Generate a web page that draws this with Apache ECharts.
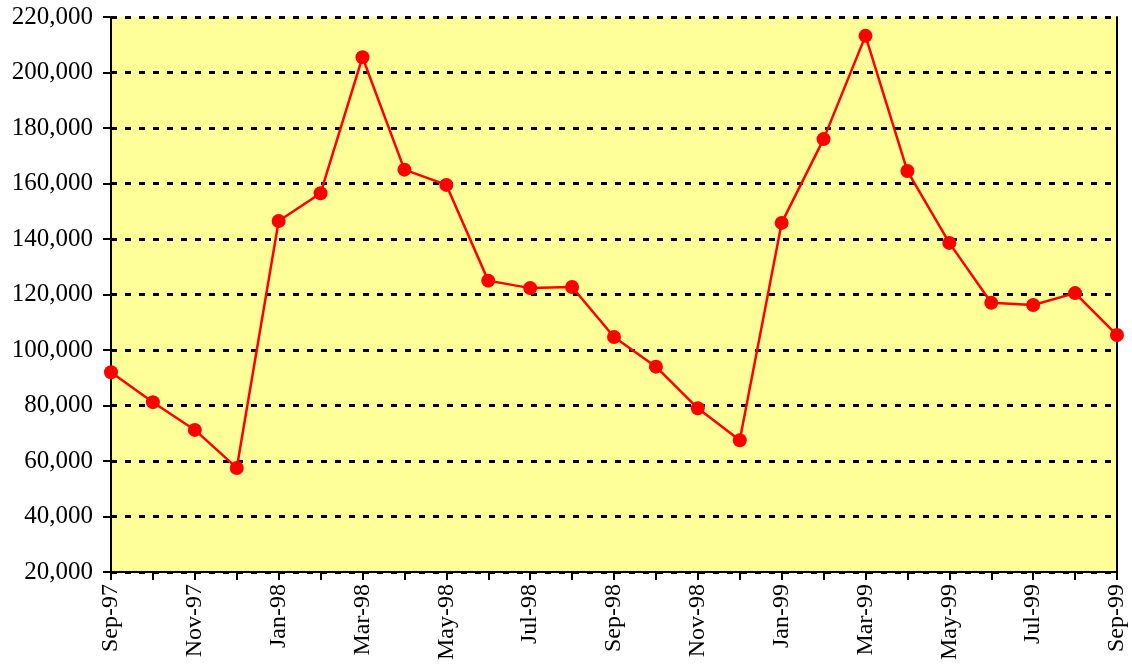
<!DOCTYPE html>
<html>
<head>
    <meta charset="utf-8">
    <title>Monthly series Sep-97 to Sep-99</title>
    <script src="https://cdn.jsdelivr.net/npm/echarts@6/dist/echarts.min.js"></script>
    <style>
        body{
            margin:0;
            background:#fff;
        }
        #chart{
            width:1132px;
            height:666px;
        }
    </style>
</head>
<body>
    <div id="chart"></div>
    <script type="text/javascript">
    // categories (one per month)
    var months = ['Sep-97','Oct-97','Nov-97','Dec-97','Jan-98','Feb-98','Mar-98','Apr-98','May-98',
                  'Jun-98','Jul-98','Aug-98','Sep-98','Oct-98','Nov-98','Dec-98','Jan-99','Feb-99',
                  'Mar-99','Apr-99','May-99','Jun-99','Jul-99','Aug-99','Sep-99'];
    // values
    var values = [92000, 81200, 71200, 57500, 146500, 156500, 205500, 165000, 159500,
                  125000, 122300, 122700, 104700, 94000, 79000, 67500, 145800, 176000,
                  213200, 164500, 138600, 117000, 116200, 120500, 105400];
    var yMin = 20000, yMax = 220000, yStep = 20000;

    var myChart = echarts.init(document.getElementById('chart'));
    var font = '"Liberation Serif", "Times New Roman", serif';

    var option = {
        animation: false,
        grid: {
            left: 111,
            right: 15,
            top: 17,
            bottom: 94,
            show: true,
            backgroundColor: '#FFFF99',
            borderWidth: 0
        },
        xAxis: {
            type: 'category',
            boundaryGap: false,
            data: months,
            axisLine: { lineStyle: { color: '#000', width: 2 } },
            axisTick: { show: true, interval: 0, length: 8, lineStyle: { color: '#000', width: 2 } },
            axisLabel: {
                interval: 1,
                rotate: 90,
                margin: 12,
                color: '#000',
                fontFamily: font,
                fontSize: 24
            },
            splitLine: { show: false }
        },
        yAxis: [{
            type: 'value',
            min: yMin,
            max: yMax,
            interval: yStep,
            axisLine: { show: true, lineStyle: { color: '#000', width: 2 } },
            axisTick: { show: true, length: 8, lineStyle: { color: '#000', width: 2 } },
            axisLabel: {
                margin: 18,
                color: '#000',
                fontFamily: font,
                fontSize: 25,
                formatter: function (v) { return v.toLocaleString('en-US'); }
            },
            splitLine: { show: true, lineStyle: { color: '#000', width: 3, type: [6, 8] } }
        }, {
            type: 'value',
            position: 'right',
            min: yMin,
            max: yMax,
            interval: yStep,
            axisLine: { show: true, lineStyle: { color: '#000', width: 2 } },
            axisTick: { show: false },
            axisLabel: { show: false },
            splitLine: { show: false }
        }],
        series: [{
            type: 'line',
            data: values,
            symbol: 'circle',
            symbolSize: 14,
            itemStyle: { color: '#FF0000' },
            lineStyle: { color: '#FF0000', width: 2.5 }
        }]
    };

    myChart.setOption(option);
    </script>
</body>
</html>
